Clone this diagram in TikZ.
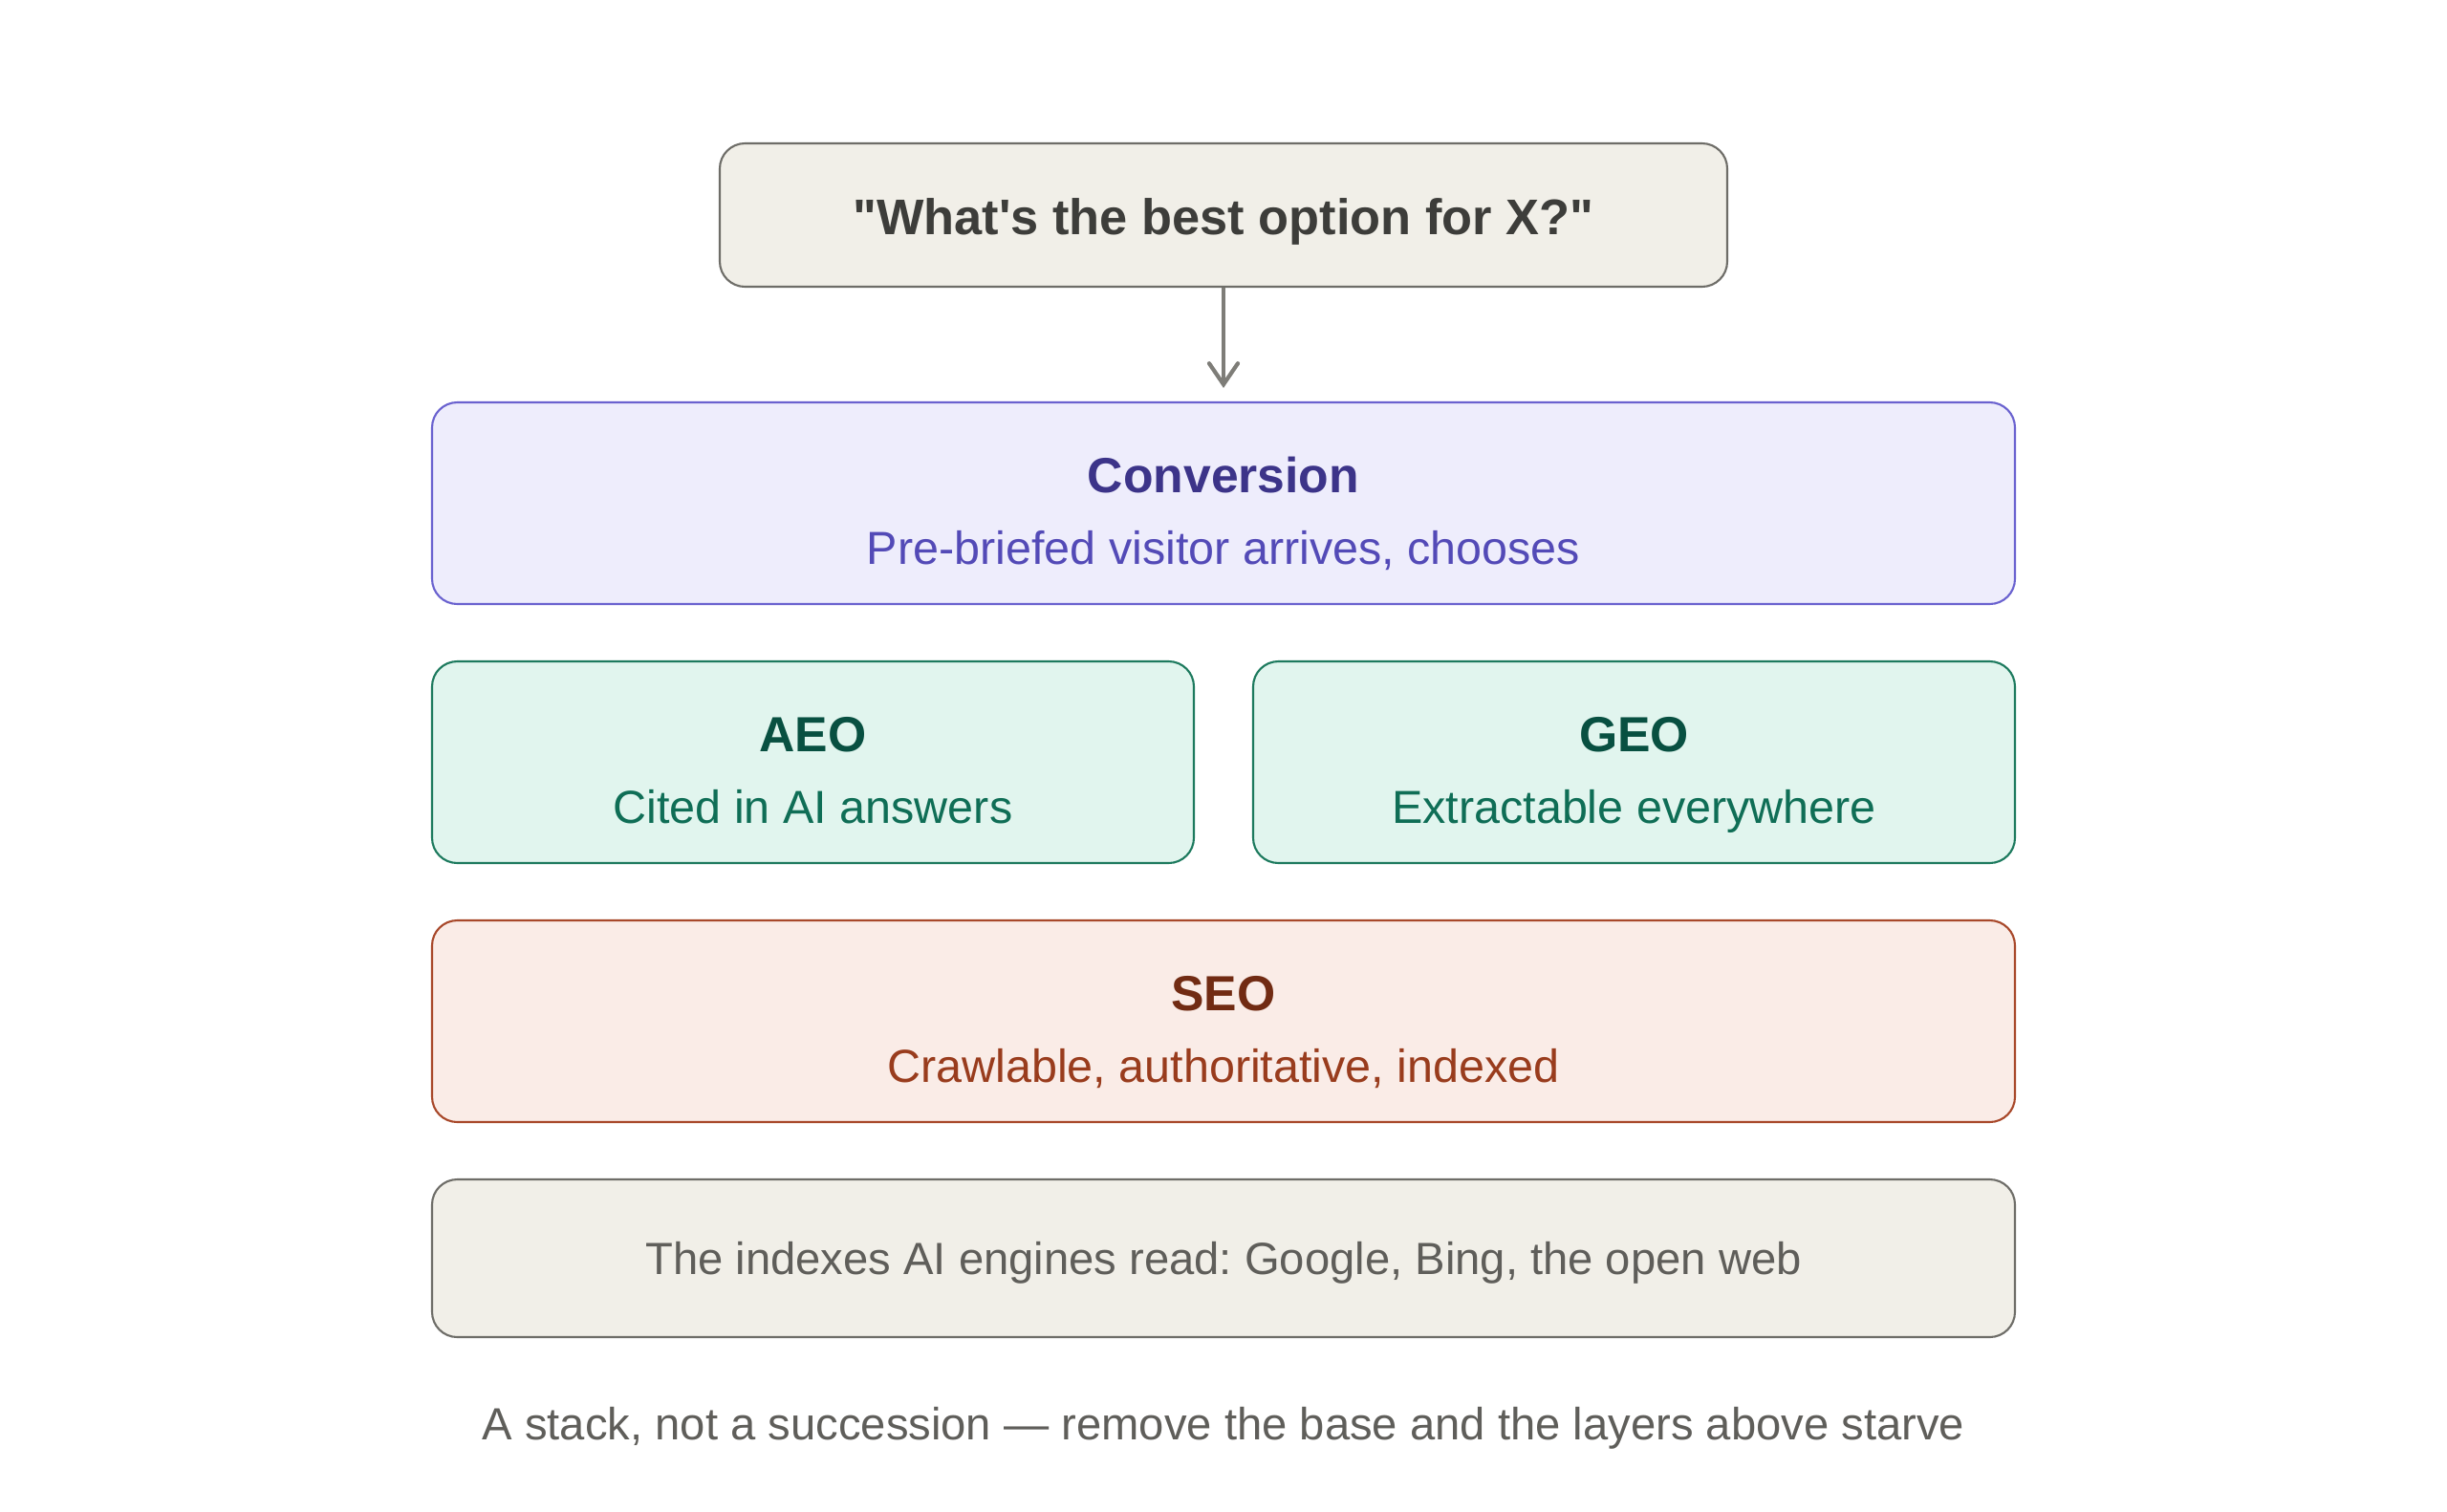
\documentclass[tikz,border=0pt]{standalone}
\usepackage{fontspec}
\setmainfont{Liberation Sans}[Ligatures=TeXOff]
\usepackage{xcolor}
\usepackage{tikz}
\usetikzlibrary{arrows.meta}
\usetikzlibrary{positioning}
\frenchspacing

\definecolor{grayfill}{HTML}{F1EFE8}
\definecolor{grayline}{HTML}{6E6D68}
\definecolor{graytext}{HTML}{5F5E5A}
\definecolor{darktext}{HTML}{3D3D3A}
\definecolor{arrowgray}{HTML}{7E7D78}
\definecolor{convfill}{HTML}{EEEDFC}
\definecolor{convline}{HTML}{6A62CF}
\definecolor{convtitle}{HTML}{3C3489}
\definecolor{convsub}{HTML}{534AB7}
\definecolor{geofill}{HTML}{E1F5EE}
\definecolor{geoline}{HTML}{1D7A5E}
\definecolor{geotitle}{HTML}{085041}
\definecolor{geosub}{HTML}{0F6E56}
\definecolor{seofill}{HTML}{FAECE7}
\definecolor{seoline}{HTML}{A8482A}
\definecolor{seotitle}{HTML}{712B13}
\definecolor{seosub}{HTML}{993C1D}

% title line with fixed height, subtitle line with no depth
\newcommand{\ttl}[2]{{\color{#1}\bfseries\fontsize{14.7}{21.3}\selectfont\rule{0pt}{15pt}#2}}
\newcommand{\lyrsub}[1]{\raisebox{0pt}[\height][0pt]{#1}}
\newcommand{\oneline}[2]{\raisebox{0pt}[#1][0pt]{#2}}

\begin{document}
\begin{tikzpicture}[
        box/.style = {rounded corners=7.5pt, line width=0.6pt, align=center, inner sep=0pt,
                      font=\fontsize{13.8}{21.3}\selectfont},
        box gray/.style = {box, draw=grayline, fill=grayfill, text=graytext},
        box conv/.style = {box, draw=convline, fill=convfill, text=convsub},
        box geo/.style = {box, draw=geoline, fill=geofill, text=geosub},
        box seo/.style = {box, draw=seoline, fill=seofill, text=seosub},
        wide/.style = {minimum width=16.56cm, minimum height=2.11cm},
        half/.style = {minimum width=7.97cm, minimum height=2.11cm},
    ]
    \useasboundingbox (0,0) rectangle (25.6,-15.81);
    % question
    \node[box gray, minimum width=10.54cm, minimum height=1.5cm, text=darktext,
          font=\bfseries\fontsize{14.9}{18}\selectfont] (question) at (12.8,-2.25)
          {\oneline{11.4pt}{"What's the best option for X?"}};
    % layers
    \node[box conv, wide] (conversion) at (12.8,-5.265)
          {\ttl{convtitle}{Conversion}\\\lyrsub{Pre-briefed visitor arrives, chooses}};
    \node[box geo, half] (aeo) at (8.505,-7.975)
          {\ttl{geotitle}{AEO}\\\lyrsub{Cited in AI answers}};
    \node[box geo, half] (geo) at (17.095,-7.975)
          {\ttl{geotitle}{GEO}\\\lyrsub{Extractable everywhere}};
    \node[box seo, wide] (seo) at (12.8,-10.685)
          {\ttl{seotitle}{SEO}\\\lyrsub{Crawlable, authoritative, indexed}};
    \node[box gray, minimum width=16.56cm, minimum height=1.65cm,
          font=\fontsize{13.43}{16}\selectfont] (indexes) at (12.8,-13.165)
          {\oneline{9.4pt}{The indexes AI engines read: Google, Bing, the open web}};
    % caption
    \node[text=graytext, font=\fontsize{13.43}{16}\selectfont, anchor=base] (caption)
          at (12.8,-15.06)
          {A stack, not a succession — remove the base and the layers above starve};
    % arrow
    \draw[-{Straight Barb[length=0.22cm,width=0.30cm,line cap=round]}, line width=1.2pt,
          draw=arrowgray, shorten >=0.14cm] (question) -- (conversion);
\end{tikzpicture}
\end{document}
